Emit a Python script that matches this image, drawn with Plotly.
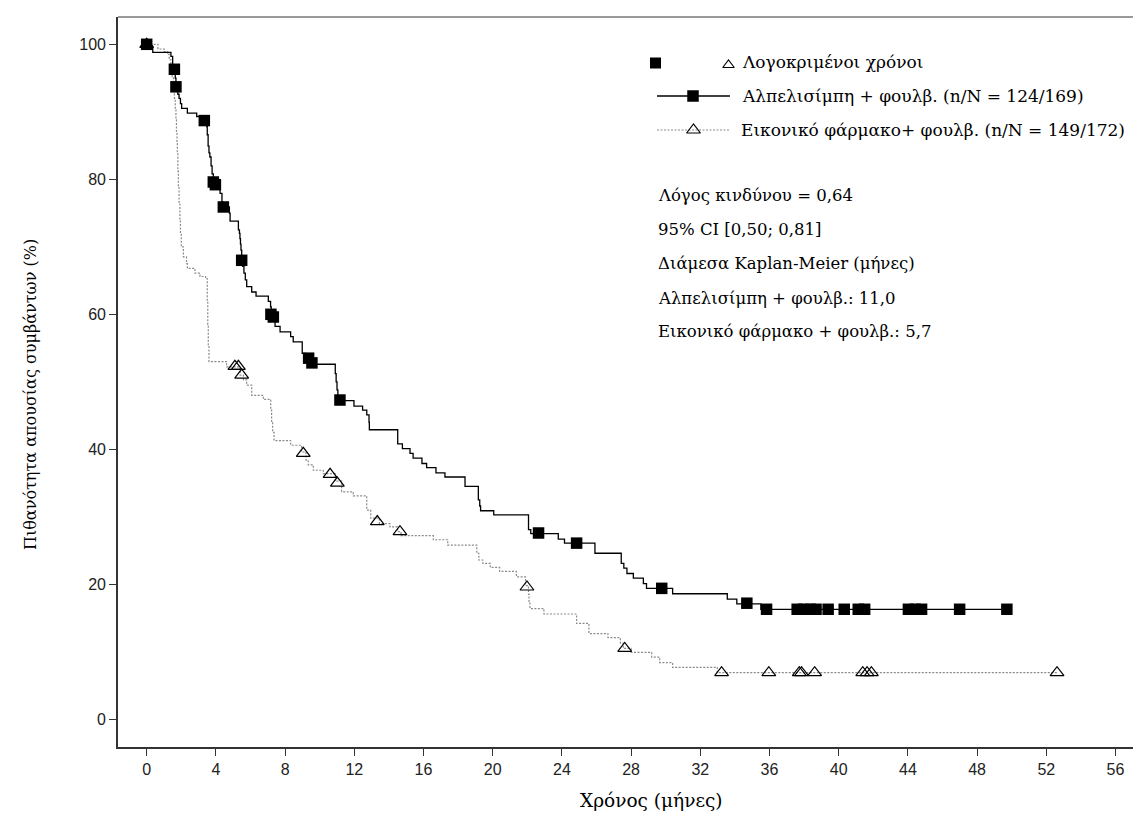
import plotly.graph_objects as go

# ---------------- data ----------------
# Alpelisib + fulvestrant: Kaplan-Meier step points (time in months, survival %)
alp_time = [0, 0.1, 0.35, 1.4, 1.5, 1.6, 1.65, 1.69, 1.8, 1.87, 1.95, 2.02, 2.35, 2.89,
            3.4, 3.47, 3.5, 3.55, 3.6, 3.65, 3.72, 3.78, 3.85, 4.0, 4.1, 4.24, 4.35, 4.43,
            4.78, 4.82, 5.30, 5.36, 5.39, 5.42, 5.45, 5.49, 5.55, 5.62, 5.70, 5.78, 6.07,
            6.32, 7.03, 7.16, 7.2, 7.3, 7.42, 7.71, 8.32, 8.47, 8.99, 9.2, 9.5, 10.9, 10.95,
            11.0, 11.05, 11.1, 11.98, 12.48, 12.72, 12.85, 12.87, 14.51, 14.78, 15.22, 15.4,
            15.91, 16.18, 16.72, 17.24, 18.40, 19.17, 19.25, 19.3, 20.06, 22.07, 22.2, 23.79,
            24.15, 25.91, 27.43, 27.58, 27.76, 28.13, 28.71, 28.89, 30.4, 33.56, 34.11, 35.5,
            49.72]
alp_surv = [100, 99.4, 98.8, 98.2, 97.0, 96.3, 95.0, 93.7, 92.6, 92.0, 91.2, 90.5, 89.8, 89.3,
            88.7, 87.8, 86.6, 84.9, 83.9, 83.3, 82.0, 80.8, 79.6, 79.2, 78.5, 77.9, 76.6, 75.9,
            75.0, 73.8, 72.5, 72.0, 71.2, 70.4, 69.5, 68.0, 67.1, 66.1, 65.1, 64.1, 63.3,
            62.7, 61.9, 61.1, 60.2, 59.6, 58.2, 57.4, 56.7, 55.9, 54.2, 53.5, 52.6, 51.2, 50.0,
            48.8, 47.8, 47.2, 46.4, 45.8, 45.1, 44.0, 42.9, 40.8, 40.1, 39.4, 38.7,
            37.9, 37.3, 36.5, 35.9, 34.5, 32.5, 31.6, 30.9, 30.3, 28.1, 27.5, 26.7,
            26.1, 24.6, 23.1, 22.4, 21.6, 20.9, 20.1, 19.4, 18.6, 17.8, 17.1, 16.3,
            16.3]
alp_cens_time = [0, 1.60, 1.69, 3.33, 3.85, 3.97, 4.43, 5.49, 7.18, 7.32, 9.36, 9.55, 11.17,
                 22.65, 24.85, 29.77, 34.69, 35.83, 37.6, 37.98, 38.36, 38.69, 39.39, 40.32,
                 41.13, 41.5, 44.03, 44.42, 44.79, 46.99, 49.72]
alp_cens_surv = [100, 96.3, 93.7, 88.7, 79.6, 79.2, 75.9, 68.0, 60.0, 59.6, 53.5, 52.8, 47.3,
                 27.6, 26.1, 19.4, 17.2, 16.3, 16.3, 16.3, 16.3, 16.3, 16.3, 16.3,
                 16.3, 16.3, 16.3, 16.3, 16.3, 16.3, 16.3]

# Placebo + fulvestrant
pbo_time = [0, 0.65, 1.0, 1.2, 1.3, 1.4, 1.47, 1.54, 1.6, 1.65, 1.69, 1.72, 1.75, 1.77, 1.8,
            1.83, 1.87, 1.92, 1.95, 2.0, 2.12, 2.3, 2.35, 2.79, 3.08, 3.4, 3.5, 3.53, 3.56,
            3.6, 4.62, 5.4, 5.59, 5.78, 6.07, 6.74, 7.17, 7.22, 7.28, 7.36, 8.32, 8.95, 9.21,
            9.34, 9.63, 10.21, 10.9, 11.27, 11.94, 12.72, 12.95, 13.45, 14.06, 14.5, 14.7,
            16.57, 17.40, 19.08, 19.2, 19.43, 19.86, 20.4, 21.37, 21.9, 22.07, 22.1, 22.15,
            22.96, 24.85, 25.56, 26.66, 27.38, 27.55, 28.0, 29.19, 29.65, 30.4, 32.98, 52.62]
pbo_surv = [100, 99.3, 98.9, 98.5, 97.7, 96.5, 95.2, 93.7, 92.0, 90.3, 88.8, 86.9, 85.3, 83.9,
            81.2, 78.9, 76.3, 74.0, 72.0, 70.0, 68.5, 67.5, 66.8, 66.1, 65.6, 65.3, 62.0, 58.5,
            55.5, 53.0, 52.2, 51.0, 50.3, 49.5, 48.0, 47.4, 45.8, 44.0, 42.5, 41.3, 40.6, 39.6,
            38.4, 37.7, 36.9, 36.4, 35.3, 33.7, 33.1, 31.0, 29.8, 29.0, 28.5, 27.8, 27.2,
            26.6, 25.8, 24.6, 23.6, 23.1, 22.5, 21.9, 21.1, 19.8, 18.5, 17.3, 16.4,
            15.6, 14.2, 12.7, 12.1, 11.3, 10.5, 9.9, 9.2, 8.4, 7.7, 6.9, 6.9]
pbo_cens_time = [0, 5.10, 5.30, 5.49, 9.05, 10.6, 11.02, 13.33, 14.64, 21.98, 27.63, 33.23,
                 35.96, 37.72, 37.85, 38.61, 41.39, 41.64, 41.89, 52.62]
pbo_cens_surv = [100, 52.3, 52.3, 51.0, 39.4, 36.3, 35.0, 29.3, 27.8, 19.6, 10.5, 6.9,
                 6.9, 6.9, 6.9, 6.9, 6.9, 6.9, 6.9, 6.9]

x_tick_vals = [0, 4, 8, 12, 16, 20, 24, 28, 32, 36, 40, 44, 48, 52, 56]
y_tick_vals = [0, 20, 40, 60, 80, 100]

legend_censored = "Λογοκριμένοι χρόνοι"
legend_alp = "Αλπελισίμπη + φουλβ. (n/N = 124/169)"
legend_pbo = "Εικονικό φάρμακο+ φουλβ. (n/N = 149/172)"
info_lines = ["Λόγος κινδύνου = 0,64",
              "95% CI [0,50; 0,81]",
              "Διάμεσα Kaplan-Meier (μήνες)",
              "Αλπελισίμπη + φουλβ.: 11,0",
              "Εικονικό φάρμακο + φουλβ.: 5,7"]
x_title = "Χρόνος (μήνες)"
y_title = "Πιθανότητα απουσίας συμβάντων (%)"

# ---------------- layout geometry ----------------
W, H = 1133, 826
L, R, T, B = 118, 0, 17, 79
PW, PH = W - L - R, H - T - B
X0_PX, X_PER = 146.7, 17.30     # px of month 0, px per month
Y0_PX, Y_PER = 719.3, 6.75      # px of 0 %, px per %
x_range = [(L - X0_PX) / X_PER, (W - R - X0_PX) / X_PER]
y_range = [(Y0_PX - (T + PH)) / Y_PER, (Y0_PX - T) / Y_PER]

def px(x):
    return (x - L) / PW

def py(y):
    return (T + PH - y) / PH

SERIF = "DejaVu Serif, Liberation Serif, serif"
NARROW = "Liberation Sans Narrow, Arial Narrow, Liberation Sans, Arial, sans-serif"
TXT = 16.5

fig = go.Figure()

# curves
fig.add_trace(go.Scatter(x=pbo_time, y=pbo_surv, mode="lines",
                         line=dict(color="#8a8a8a", width=1.2, dash="2px,1.5px", shape="hv"),
                         showlegend=False, hoverinfo="skip"))
fig.add_trace(go.Scatter(x=alp_time, y=alp_surv, mode="lines",
                         line=dict(color="#000000", width=1.3, shape="hv"),
                         showlegend=False, hoverinfo="skip"))
fig.add_trace(go.Scatter(x=pbo_cens_time, y=pbo_cens_surv, mode="markers",
                         marker=dict(symbol="triangle-up-open", size=12, color="#000000",
                                     line=dict(width=1.2, color="#000000")),
                         showlegend=False, hoverinfo="skip"))
fig.add_trace(go.Scatter(x=alp_cens_time, y=alp_cens_surv, mode="markers",
                         marker=dict(symbol="square", size=11.5, color="#000000",
                                     line=dict(width=0)),
                         showlegend=False, hoverinfo="skip"))

# legend glyphs on an overlay axis in pixel units
lg = dict(xaxis="x2", yaxis="y2", showlegend=False, hoverinfo="skip")
fig.add_trace(go.Scatter(x=[655.5], y=[63], mode="markers",
                         marker=dict(symbol="square", size=11, color="#000"), **lg))
fig.add_trace(go.Scatter(x=[728.5], y=[65], mode="markers",
                         marker=dict(symbol="triangle-up-open", size=10, color="#000",
                                     line=dict(width=1.1, color="#000")), **lg))
fig.add_trace(go.Scatter(x=[657, 730], y=[96, 96], mode="lines",
                         line=dict(color="#000", width=1.3), **lg))
fig.add_trace(go.Scatter(x=[693], y=[96], mode="markers",
                         marker=dict(symbol="square", size=11.5, color="#000"), **lg))
fig.add_trace(go.Scatter(x=[657, 730], y=[130, 130], mode="lines",
                         line=dict(color="#8a8a8a", width=1.2, dash="2px,1.5px"), **lg))
fig.add_trace(go.Scatter(x=[693.5], y=[130], mode="markers",
                         marker=dict(symbol="triangle-up-open", size=12, color="#000",
                                     line=dict(width=1.2, color="#000")), **lg))

annotations = []
def add_text(text, x, y, size=TXT, xanchor="left", angle=0):
    annotations.append(dict(text=text, x=px(x), y=py(y), xref="paper", yref="paper",
                            xanchor=xanchor, yanchor="middle", showarrow=False,
                            textangle=angle,
                            font=dict(family=SERIF, size=size, color="#000")))

add_text(legend_censored, 740, 62, size=17)
add_text(legend_alp, 740, 96, size=17)
add_text(legend_pbo, 739, 130, size=17)
for i, line in enumerate(info_lines):
    add_text(line, 656, [195, 229, 263, 298, 332][i])
add_text(x_title, 651, 800, size=18.5, xanchor="center")
add_text(y_title, 30, 395, size=16, xanchor="center", angle=-90)

axis_font = dict(family=NARROW, size=16, color="#222")
fig.update_layout(
    width=W, height=H,
    margin=dict(l=L, r=R, t=T, b=B, pad=0),
    paper_bgcolor="white", plot_bgcolor="white",
    xaxis=dict(range=x_range, tickmode="array", tickvals=x_tick_vals,
               ticktext=[str(v) for v in x_tick_vals],
               ticks="outside", ticklen=7, tickwidth=1.2, tickcolor="#333",
               showline=True, linecolor="#333", linewidth=1.6, mirror=False,
               showgrid=False, zeroline=False, tickfont=axis_font),
    yaxis=dict(range=y_range, tickmode="array", tickvals=y_tick_vals,
               ticktext=[str(v) for v in y_tick_vals],
               ticks="outside", ticklen=7, tickwidth=1.2, tickcolor="#333",
               showline=True, linecolor="#333", linewidth=1.6, mirror=False,
               showgrid=False, zeroline=False, tickfont=axis_font),
    xaxis2=dict(overlaying="x", range=[L, W - R], visible=False, fixedrange=True),
    yaxis2=dict(overlaying="y", range=[T + PH, T], visible=False, fixedrange=True),
    annotations=annotations,
    shapes=[dict(type="line", xref="paper", yref="paper", x0=0, x1=1, y0=1, y1=1,
                 line=dict(color="#777", width=1.5))],
    showlegend=False,
)

fig.write_html("out.html", post_script="document.body.style.margin='0';",
               config={"displayModeBar": False})
